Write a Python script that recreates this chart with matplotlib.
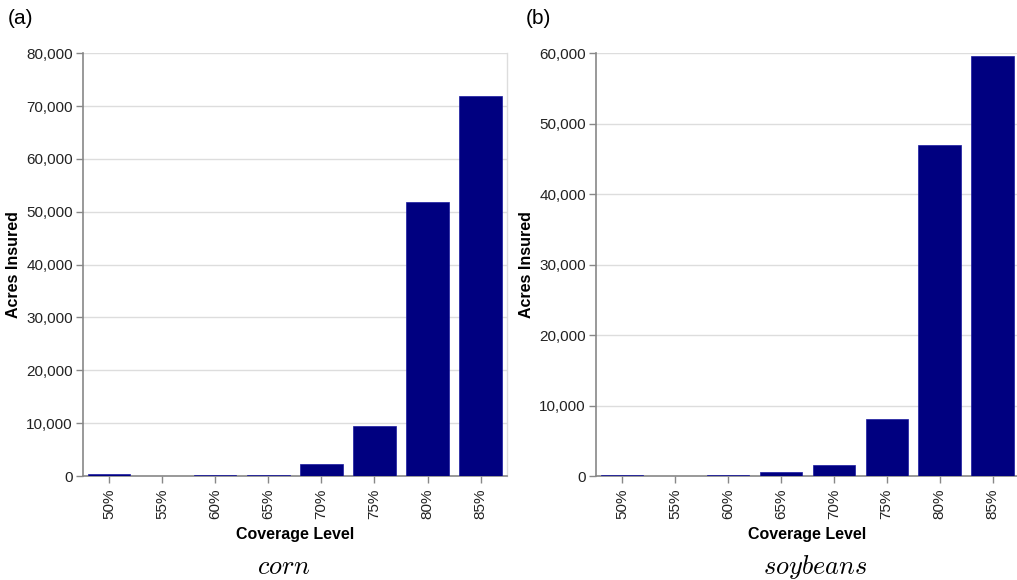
import matplotlib
matplotlib.use("Agg")
import matplotlib.pyplot as plt
from matplotlib.ticker import FuncFormatter, MultipleLocator

plt.rcParams['font.family'] = ['Liberation Sans', 'DejaVu Sans']
plt.rcParams['mathtext.fontset'] = 'cm'

levels = ["50%", "55%", "60%", "65%", "70%", "75%", "80%", "85%"]
corn_acres = [300, 0, 250, 250, 2300, 9450, 51800, 72000]
soy_acres = [150, 0, 200, 600, 1550, 8100, 46950, 59600]

W, H = 1017, 580
fig = plt.figure(figsize=(W / 100, H / 100), dpi=100)

def ax_box(x0, x1, y0, y1):
    return [x0 / W, 1 - y1 / H, (x1 - x0) / W, (y1 - y0) / H]

axA = fig.add_axes(ax_box(82.5, 507.2, 53.3, 476))
axB = fig.add_axes(ax_box(595.7, 1019, 53.3, 476))

def style(ax, vals, ymax, step):
    x = list(range(len(levels)))
    ax.bar(x, vals, width=0.8, color='#000080', edgecolor='#1a1aa0', linewidth=0.5, zorder=3)
    ax.set_xlim(-0.5, len(levels) - 0.5)
    ax.set_ylim(0, ymax)
    ax.yaxis.set_major_locator(MultipleLocator(step))
    ax.yaxis.set_major_formatter(FuncFormatter(lambda v, p: f"{int(v):,}"))
    ax.set_xticks(x)
    ax.set_xticklabels(levels, rotation=90, fontsize=11)
    ax.tick_params(axis='y', labelsize=11, colors='#888888', labelcolor='#222222', length=5, width=1, pad=2)
    ax.tick_params(axis='x', colors='#888888', labelcolor='#222222', length=5, width=1, pad=4)
    ax.grid(axis='y', color='#dddddd', linewidth=1, zorder=0)
    ax.spines['top'].set_visible(False)
    ax.spines['right'].set_color('#dddddd')
    ax.spines['right'].set_linewidth(1)
    for s in ['left', 'bottom']:
        ax.spines[s].set_color('#888888')
        ax.spines[s].set_linewidth(1.2)
    ax.set_xlabel('Coverage Level', fontsize=11.5, fontweight='bold', labelpad=6)
    ax.set_ylabel('Acres Insured', fontsize=11.5, fontweight='bold', labelpad=4)
    ax.set_axisbelow(True)

style(axA, corn_acres, 80000, 10000)
style(axB, soy_acres, 60000, 10000)

fig.text(0.008, 0.985, '(a)', fontsize=15, va='top', ha='left')
fig.text(0.517, 0.985, '(b)', fontsize=15, va='top', ha='left')
fig.text(0.279, 1 - 567 / H, r'$corn$', fontsize=19, ha='center', va='center')
fig.text(0.802, 1 - 567 / H, r'$soybeans$', fontsize=19, ha='center', va='center')

fig.savefig('out.png', dpi=100)
